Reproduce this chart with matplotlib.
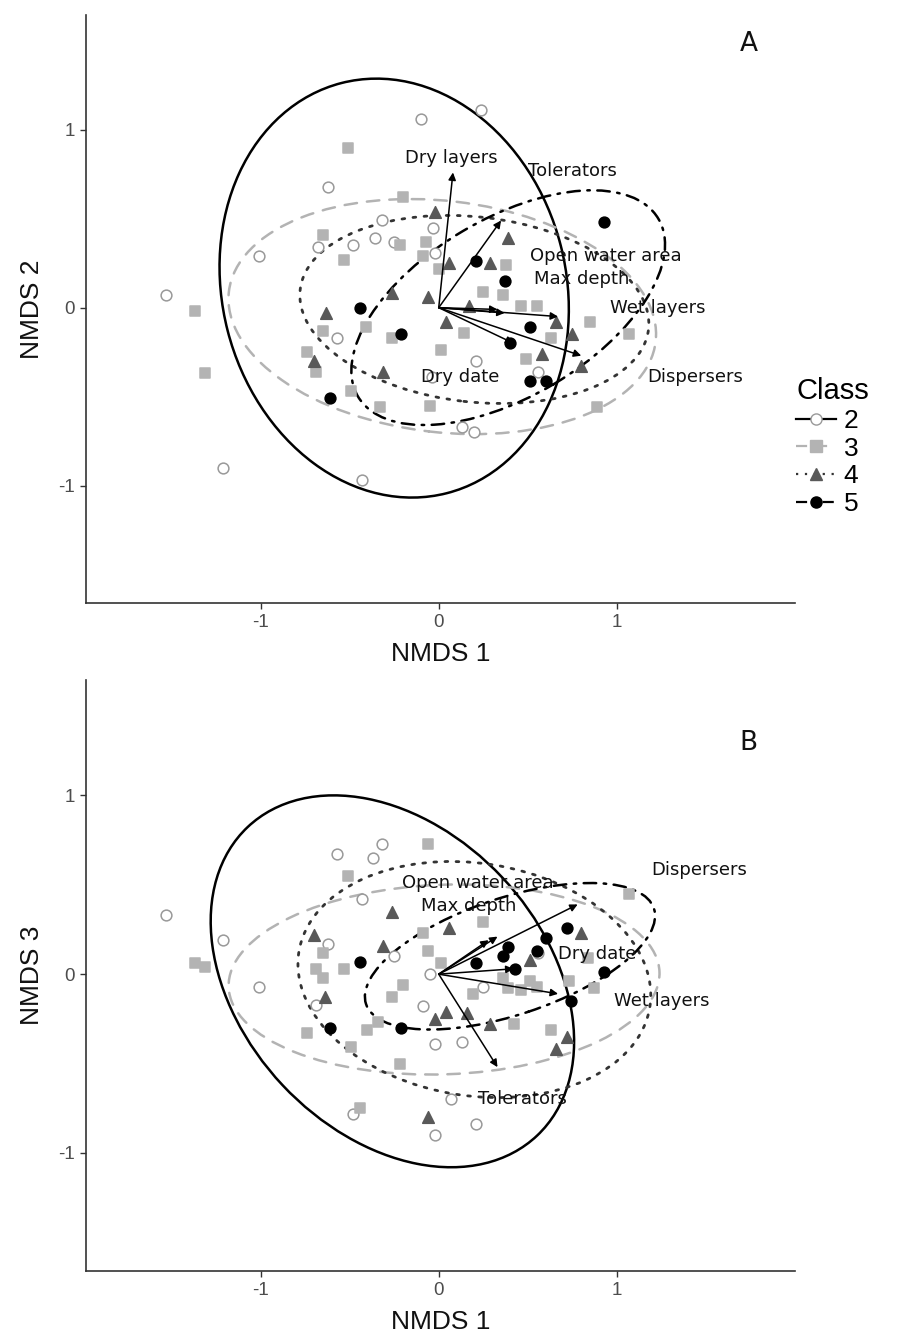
import matplotlib

matplotlib.use("Agg")
import matplotlib.pyplot as plt
from matplotlib.lines import Line2D
from matplotlib.patches import Ellipse
import numpy as np

plt.rcParams["axes.unicode_minus"] = False

# ---- panel A : NMDS 1 vs NMDS 2 ----
a_c2_x = [0.24, -0.10, -0.62, -1.01, -1.53, -0.32, -0.68, -0.48, -0.36, -0.25, -0.03, -0.02,
          -0.57, -1.21, -0.43, -0.04, 0.21, 0.56, 0.20, 0.13]
a_c2_y = [1.11, 1.06, 0.68, 0.29, 0.07, 0.49, 0.34, 0.35, 0.39, 0.37, 0.45, 0.31,
          -0.17, -0.90, -0.97, -0.39, -0.30, -0.36, -0.70, -0.67]
a_c3_x = [-0.51, -0.20, -0.65, -0.53, -0.22, -0.07, -0.09, 0.00, -1.37, -0.65, -0.41, -0.26,
          -1.31, -0.74, -0.69, -0.49, -0.33, -0.05, 0.01, 0.14, 0.63, 0.49, 0.89, 1.07,
          0.38, 0.25, 0.36, 0.46, 0.55, 0.85]
a_c3_y = [0.90, 0.62, 0.41, 0.27, 0.35, 0.37, 0.29, 0.22, -0.02, -0.13, -0.11, -0.17,
          -0.37, -0.25, -0.36, -0.47, -0.56, -0.55, -0.24, -0.14, -0.17, -0.29, -0.56, -0.15,
          0.24, 0.09, 0.07, 0.01, 0.01, -0.08]
a_c4_x = [-0.02, 0.06, 0.29, 0.39, -0.26, -0.06, -0.63, 0.04, 0.17, 0.66, 0.75, 0.58, 0.80, -0.70, -0.31]
a_c4_y = [0.54, 0.25, 0.25, 0.39, 0.08, 0.06, -0.03, -0.08, 0.01, -0.08, -0.15, -0.26, -0.33, -0.30, -0.36]
a_c5_x = [0.93, 0.21, 0.37, -0.44, -0.21, 0.51, 0.40, 0.51, 0.60, -0.61]
a_c5_y = [0.48, 0.26, 0.15, 0.00, -0.15, -0.11, -0.20, -0.41, -0.41, -0.51]

a_vec_names = ["Dry layers", "Tolerators", "Open water area", "Max depth", "Wet layers", "Dry date", "Dispersers"]
a_vec_x = [0.08, 0.35, 0.33, 0.37, 0.67, 0.42, 0.80]
a_vec_y = [0.76, 0.49, -0.01, -0.03, -0.05, -0.20, -0.27]
a_lab_x = [0.07, 0.75, 0.94, 0.80, 1.23, 0.12, 1.44]
a_lab_y = [0.84, 0.77, 0.29, 0.16, 0.00, -0.39, -0.39]

# ellipse: centre x, centre y, semi-major, semi-minor, angle (deg)
a_ell = {
    "2": (-0.25, 0.11, 1.19, 0.965, 104.4),
    "3": (0.02, -0.05, 1.206, 0.65, -6.7),
    "4": (0.20, -0.01, 0.984, 0.52, -6.5),
    "5": (0.39, 0.00, 0.98, 0.50, 30.7),
}

# ---- panel B : NMDS 1 vs NMDS 3 ----
b_c2_x = [-1.53, -1.21, -1.01, -0.57, -0.32, -0.37, -0.43, -0.62, -0.25, -0.05, -0.69, -0.09,
          -0.02, 0.13, 0.25, 0.56, -0.48, 0.07, -0.02, 0.21]
b_c2_y = [0.33, 0.19, -0.07, 0.67, 0.73, 0.65, 0.42, 0.17, 0.10, 0.00, -0.17, -0.18,
          -0.39, -0.38, -0.07, 0.12, -0.78, -0.70, -0.90, -0.84]
b_c3_x = [-0.06, -0.51, -0.65, -0.69, -0.65, -0.53, -1.37, -1.31, -0.09, -0.06, 0.01, -0.20,
          -0.26, 0.25, 0.19, 0.36, 0.39, 0.46, 0.51, 0.55, 0.73, 0.84, 0.87, 1.07,
          0.42, 0.63, -0.34, -0.40, -0.74, -0.49, -0.22, -0.44]
b_c3_y = [0.73, 0.55, 0.12, 0.03, -0.02, 0.03, 0.06, 0.04, 0.23, 0.13, 0.06, -0.06,
          -0.13, 0.29, -0.11, -0.02, -0.08, -0.09, -0.04, -0.07, -0.04, 0.09, -0.08, 0.45,
          -0.28, -0.31, -0.27, -0.31, -0.33, -0.41, -0.50, -0.75]
b_c4_x = [-0.26, -0.70, -0.31, 0.06, -0.64, 0.04, -0.02, 0.16, 0.29, 0.80, 0.51, 0.72, 0.66, -0.06]
b_c4_y = [0.35, 0.22, 0.16, 0.26, -0.13, -0.21, -0.25, -0.22, -0.28, 0.23, 0.08, -0.35, -0.42, -0.80]
b_c5_x = [-0.44, -0.61, -0.21, 0.21, 0.39, 0.36, 0.43, 0.55, 0.60, 0.72, 0.93, 0.74]
b_c5_y = [0.07, -0.30, -0.30, 0.06, 0.15, 0.10, 0.03, 0.13, 0.20, 0.26, 0.01, -0.15]

b_vec_names = ["Open water area", "Max depth", "Dispersers", "Dry date", "Wet layers", "Tolerators"]
b_vec_x = [0.28, 0.33, 0.78, 0.42, 0.67, 0.33]
b_vec_y = [0.19, 0.21, 0.39, 0.03, -0.11, -0.52]
b_lab_x = [0.22, 0.17, 1.46, 0.89, 1.25, 0.47]
b_lab_y = [0.51, 0.38, 0.58, 0.11, -0.15, -0.70]

b_ell = {
    "2": (-0.26, -0.04, 1.185, 0.847, 133.3),
    "3": (0.03, -0.03, 1.21, 0.53, 2.0),
    "4": (0.20, -0.03, 0.997, 0.65, -8.8),
    "5": (0.40, 0.10, 0.851, 0.327, 18.3),
}

classes = ["2", "3", "4", "5"]
style = {
    "2": dict(marker="o", fc="white", ec="#999999", ell_color="black", ls="-", lw=1.8),
    "3": dict(marker="s", fc="#b3b3b3", ec="#b3b3b3", ell_color="#b3b3b3", ls=(0, (5, 4)), lw=1.8),
    "4": dict(marker="^", fc="#595959", ec="#595959", ell_color="#333333", ls=(0, (1, 3)), lw=2.0),
    "5": dict(marker="o", fc="black", ec="black", ell_color="black", ls=(0, (5, 3, 1, 3)), lw=1.8),
}
msize = {"2": 60, "3": 48, "4": 70, "5": 60}


def draw_panel(ax, pts, ell, vx, vy, names, lx, ly, letter, ylabel):
    for k in classes:
        cx, cy, a, b, ang = ell[k]
        st = style[k]
        ax.add_patch(Ellipse((cx, cy), 2 * a, 2 * b, angle=ang, fill=False,
                             edgecolor=st["ell_color"], linestyle=st["ls"], lw=st["lw"],
                             capstyle="round", zorder=2))
    for k in classes:
        x, y = pts[k]
        st = style[k]
        ax.scatter(x, y, s=msize[k], marker=st["marker"], facecolors=st["fc"],
                   edgecolors=st["ec"], linewidths=1.1, zorder=3)
    for x, y in zip(vx, vy):
        ax.annotate("", xy=(x, y), xytext=(0, 0),
                    arrowprops=dict(arrowstyle="-|>", color="black", lw=1.1,
                                    mutation_scale=11, shrinkA=0, shrinkB=0), zorder=4)
    for name, x, y in zip(names, lx, ly):
        ax.text(x, y, name, ha="center", va="center", fontsize=13, color="#111111",
                family="DejaVu Sans", zorder=5)
    ax.text(1.74, 1.48 if letter == "A" else 1.29, letter, ha="center", va="center",
            fontsize=19, color="#111111", family="DejaVu Sans")

    ax.set_xlim(-1.98, 2.0)
    ax.set_ylim(-1.66, 1.645)
    ax.set_xticks([-1, 0, 1])
    ax.set_yticks([-1, 0, 1])
    ax.set_xticklabels(["-1", "0", "1"])
    ax.set_yticklabels(["-1", "0", "1"])
    for s in ["top", "right"]:
        ax.spines[s].set_visible(False)
    for s in ["left", "bottom"]:
        ax.spines[s].set_color("#333333")
        ax.spines[s].set_linewidth(1.2)
    ax.tick_params(length=4, width=1, color="#333333", labelcolor="#4d4d4d",
                   labelsize=13.5, pad=4)
    for t in ax.get_xticklabels() + ax.get_yticklabels():
        t.set_family("Liberation Sans")
    ax.set_xlabel("NMDS 1", fontsize=19, family="Liberation Sans", color="#111111", labelpad=8)
    ax.set_ylabel(ylabel, fontsize=19, family="Liberation Sans", color="#111111", labelpad=10)


fig = plt.figure(figsize=(9.11, 13.42), dpi=100)
ax_a = fig.add_axes([86 / 911, 1 - 603 / 1342, 709 / 911, 588 / 1342])
ax_b = fig.add_axes([86 / 911, 1 - 1271 / 1342, 709 / 911, 591 / 1342])

draw_panel(ax_a,
           {"2": (a_c2_x, a_c2_y), "3": (a_c3_x, a_c3_y), "4": (a_c4_x, a_c4_y), "5": (a_c5_x, a_c5_y)},
           a_ell, a_vec_x, a_vec_y, a_vec_names, a_lab_x, a_lab_y, "A", "NMDS 2")
draw_panel(ax_b,
           {"2": (b_c2_x, b_c2_y), "3": (b_c3_x, b_c3_y), "4": (b_c4_x, b_c4_y), "5": (b_c5_x, b_c5_y)},
           b_ell, b_vec_x, b_vec_y, b_vec_names, b_lab_x, b_lab_y, "B", "NMDS 3")

handles = []
for k in classes:
    st = style[k]
    handles.append(Line2D([0], [0], color=st["ell_color"], linestyle=st["ls"], lw=1.6,
                          marker=st["marker"], markerfacecolor=st["fc"],
                          markeredgecolor=st["ec"], markersize=8))
leg = fig.legend(handles, classes, title="Class", loc="upper left",
                 bbox_to_anchor=(783 / 911, 1 - 364 / 1342), frameon=False,
                 handlelength=1.5, handletextpad=0.3,
                 labelspacing=0.14, borderpad=0, alignment="left",
                 prop={"family": "Liberation Sans", "size": 19})
leg.get_title().set_family("Liberation Sans")
leg.get_title().set_fontsize(21)

fig.savefig("out.png", dpi=100)
